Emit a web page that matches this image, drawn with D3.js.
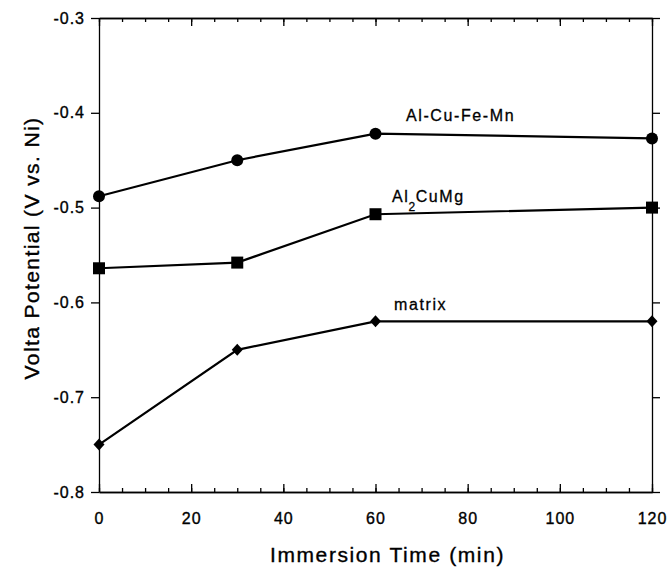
<!DOCTYPE html>
<html>
<head>
<meta charset="utf-8">
<script src="https://cdn.jsdelivr.net/npm/d3@7"></script>
<style>
  body { margin: 0; background: #fff; }
  text { font-family: "Liberation Sans", Arial, Helvetica, sans-serif; fill: #000; }
</style>
</head>
<body>
<script>
// data
var times = [0, 30, 60, 120];
var alCuFeMn = [-0.488, -0.450, -0.422, -0.427];
var al2CuMg = [-0.564, -0.558, -0.507, -0.500];
var matrix = [-0.750, -0.650, -0.620, -0.620];
var xTicks = [0, 20, 40, 60, 80, 100, 120];
var yTicks = [-0.3, -0.4, -0.5, -0.6, -0.7, -0.8];

var w = 672, h = 568;
var padLeft = 99, padRight = 652, padTop = 18, padBottom = 492;

var svg = d3.select("body").append("svg")
    .attr("width", w)
    .attr("height", h);

var xScale = d3.scaleLinear().domain([0, 120]).range([padLeft, padRight]);
var yScale = d3.scaleLinear().domain([-0.8, -0.3]).range([padBottom, padTop]);

// bottom axis, ticks pointing in
var xAxis = d3.axisBottom(xScale).tickValues(xTicks).tickSize(-8).tickSizeOuter(0).tickPadding(21);
var gx = svg.append("g")
    .attr("class", "xaxis")
    .attr("transform", "translate(0," + padBottom + ")")
    .call(xAxis);
gx.selectAll("text").style("font-size", "16px").style("letter-spacing", "1px")
    .attr("stroke", "#000").attr("stroke-width", 0.35);

svg.append("g")
    .attr("transform", "translate(0," + padBottom + ")")
    .call(d3.axisBottom(xScale).tickValues(d3.range(0, 121, 5)).tickSize(-4).tickSizeOuter(0).tickFormat(""));

// top axis
svg.append("g")
    .attr("transform", "translate(0," + padTop + ")")
    .call(d3.axisTop(xScale).tickValues(xTicks).tickSize(-8).tickSizeOuter(0).tickFormat(""));
svg.append("g")
    .attr("transform", "translate(0," + padTop + ")")
    .call(d3.axisTop(xScale).tickValues(d3.range(0, 121, 5)).tickSize(-4).tickSizeOuter(0).tickFormat(""));

// left axis, ticks pointing out
var gy = svg.append("g")
    .attr("class", "yaxis")
    .attr("transform", "translate(" + padLeft + ",0)")
    .call(d3.axisLeft(yScale).tickValues(yTicks).tickSize(8).tickSizeOuter(0).tickPadding(6)
        .tickFormat(function(d) { return d3.format(".1f")(d).replace("−", "-"); }));
gy.selectAll("text").style("font-size", "16px").style("letter-spacing", "1px")
    .attr("stroke", "#000").attr("stroke-width", 0.35);

// right axis
svg.append("g")
    .attr("transform", "translate(" + padRight + ",0)")
    .call(d3.axisRight(yScale).tickValues(yTicks).tickSize(8).tickSizeOuter(0).tickFormat(""));

svg.selectAll(".domain, .tick line").attr("stroke", "#000").attr("stroke-width", 1.3);

// series
var series = [
  { name: "Al-Cu-Fe-Mn", values: alCuFeMn, marker: "circle" },
  { name: "Al2CuMg", values: al2CuMg, marker: "square" },
  { name: "matrix", values: matrix, marker: "diamond" }
];

var line = d3.line()
    .x(function(d) { return xScale(d.t); })
    .y(function(d) { return yScale(d.v); });

series.forEach(function(s) {
  var pts = times.map(function(t, i) { return { t: t, v: s.values[i] }; });
  svg.append("path")
      .datum(pts)
      .attr("d", line)
      .attr("fill", "none")
      .attr("stroke", "#000")
      .attr("stroke-width", 2.2);

  var g = svg.append("g");
  if (s.marker == "circle") {
    g.selectAll("circle").data(pts).enter().append("circle")
        .attr("cx", function(d) { return xScale(d.t); })
        .attr("cy", function(d) { return yScale(d.v); })
        .attr("r", 6)
        .attr("fill", "#000");
  } else if (s.marker == "square") {
    g.selectAll("rect").data(pts).enter().append("rect")
        .attr("x", function(d) { return xScale(d.t) - 6; })
        .attr("y", function(d) { return yScale(d.v) - 6; })
        .attr("width", 12)
        .attr("height", 12)
        .attr("fill", "#000");
  } else {
    g.selectAll("path").data(pts).enter().append("path")
        .attr("d", function(d) {
          var x = xScale(d.t), y = yScale(d.v);
          return "M" + x + "," + (y - 6) + "L" + (x + 5.5) + "," + y + "L" + x + "," + (y + 6) + "L" + (x - 5.5) + "," + y + "Z";
        })
        .attr("fill", "#000");
  }
});

// series labels
svg.append("text").attr("x", 406).attr("y", 121).style("font-size", "16px")
    .style("letter-spacing", "1.6px").attr("stroke", "#000").attr("stroke-width", 0.3)
    .text("Al-Cu-Fe-Mn");

var t2 = svg.append("text").attr("x", 392).attr("y", 202).style("font-size", "16px")
    .style("letter-spacing", "1.6px").attr("stroke", "#000").attr("stroke-width", 0.3);
t2.append("tspan").text("Al");
t2.append("tspan").attr("dy", 9).style("font-size", "12px").attr("dx", -1).text("2");
t2.append("tspan").attr("dy", -9).attr("dx", -1).text("CuMg");

svg.append("text").attr("x", 394).attr("y", 310).style("font-size", "16px")
    .style("letter-spacing", "1.6px").attr("stroke", "#000").attr("stroke-width", 0.3)
    .text("matrix");

// axis titles
svg.append("text")
    .attr("x", (268 + 507) / 2)
    .attr("y", 562)
    .attr("text-anchor", "middle")
    .style("font-size", "21px")
    .style("letter-spacing", "1.6px")
    .attr("stroke", "#000").attr("stroke-width", 0.35)
    .text("Immersion Time (min)");

svg.append("text")
    .attr("transform", "translate(39," + 248 + ") rotate(-90)")
    .attr("text-anchor", "middle")
    .style("font-size", "21px")
    .style("letter-spacing", "1.4px")
    .attr("stroke", "#000").attr("stroke-width", 0.35)
    .text("Volta Potential (V vs. Ni)");
</script>
</body>
</html>
